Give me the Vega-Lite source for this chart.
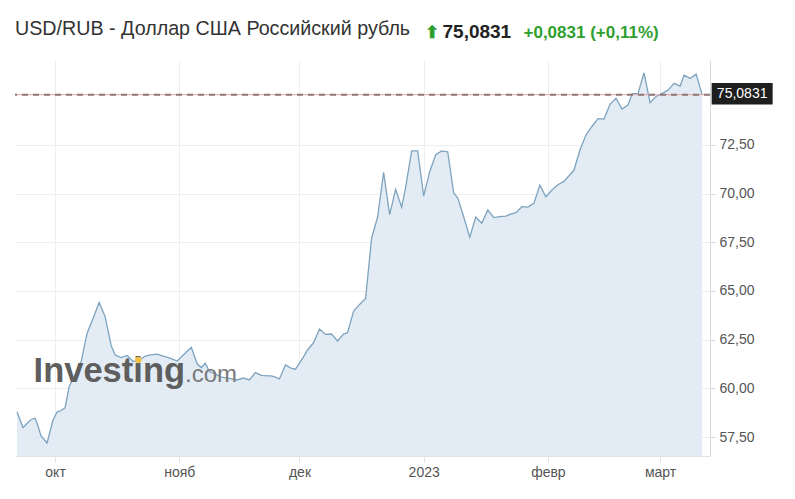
{
  "$schema": "https://vega.github.io/schema/vega-lite/v6.json",
  "width": 695,
  "height": 396,
  "autosize": "none",
  "padding": {"left": 15, "top": 60, "right": 85, "bottom": 43},
  "background": "white",
  "config": {"font": "Liberation Sans", "view": {"stroke": null}},
  "title": {"text": "USD/RUB - Доллар США Российский рубль", "anchor": "start", "frame": "group", "fontSize": 19.7, "fontWeight": "normal", "color": "#333333", "font": "Liberation Sans", "offset": 18, "dy": 51, "baseline": "alphabetic"},
  "datasets": {
    "usdrub": [
      {"date": "2022-09-21T12:00:00Z", "price": 58.80},
      {"date": "2022-09-23T00:00:00Z", "price": 57.99},
      {"date": "2022-09-25T00:00:00Z", "price": 58.40},
      {"date": "2022-09-26T00:00:00Z", "price": 58.46},
      {"date": "2022-09-26T12:00:00Z", "price": 58.22},
      {"date": "2022-09-27T12:00:00Z", "price": 57.55},
      {"date": "2022-09-29T00:00:00Z", "price": 57.19},
      {"date": "2022-09-30T12:00:00Z", "price": 58.37},
      {"date": "2022-10-01T12:00:00Z", "price": 58.78},
      {"date": "2022-10-02T12:00:00Z", "price": 58.86},
      {"date": "2022-10-03T12:00:00Z", "price": 59.00},
      {"date": "2022-10-04T12:00:00Z", "price": 60.08},
      {"date": "2022-10-06T00:00:00Z", "price": 60.72},
      {"date": "2022-10-07T12:00:00Z", "price": 61.37},
      {"date": "2022-10-09T00:00:00Z", "price": 62.83},
      {"date": "2022-10-10T12:00:00Z", "price": 63.60},
      {"date": "2022-10-12T00:00:00Z", "price": 64.41},
      {"date": "2022-10-13T12:00:00Z", "price": 63.68},
      {"date": "2022-10-15T00:00:00Z", "price": 62.20},
      {"date": "2022-10-16T00:00:00Z", "price": 61.71},
      {"date": "2022-10-17T12:00:00Z", "price": 61.58},
      {"date": "2022-10-19T00:00:00Z", "price": 61.69},
      {"date": "2022-10-20T12:00:00Z", "price": 61.38},
      {"date": "2022-10-22T00:00:00Z", "price": 61.45},
      {"date": "2022-10-23T12:00:00Z", "price": 61.66},
      {"date": "2022-10-24T12:00:00Z", "price": 61.71},
      {"date": "2022-10-26T12:00:00Z", "price": 61.76},
      {"date": "2022-10-28T00:00:00Z", "price": 61.66},
      {"date": "2022-10-29T12:00:00Z", "price": 61.56},
      {"date": "2022-10-31T12:00:00Z", "price": 61.40},
      {"date": "2022-11-02T00:00:00Z", "price": 61.71},
      {"date": "2022-11-04T00:00:00Z", "price": 62.10},
      {"date": "2022-11-05T12:00:00Z", "price": 61.25},
      {"date": "2022-11-06T12:00:00Z", "price": 61.07},
      {"date": "2022-11-07T12:00:00Z", "price": 61.29},
      {"date": "2022-11-08T12:00:00Z", "price": 60.86},
      {"date": "2022-11-10T00:00:00Z", "price": 60.74},
      {"date": "2022-11-11T12:00:00Z", "price": 60.58},
      {"date": "2022-11-13T12:00:00Z", "price": 60.51},
      {"date": "2022-11-15T12:00:00Z", "price": 60.43},
      {"date": "2022-11-17T00:00:00Z", "price": 60.53},
      {"date": "2022-11-18T12:00:00Z", "price": 60.43},
      {"date": "2022-11-20T00:00:00Z", "price": 60.81},
      {"date": "2022-11-21T12:00:00Z", "price": 60.67},
      {"date": "2022-11-23T00:00:00Z", "price": 60.64},
      {"date": "2022-11-24T00:00:00Z", "price": 60.64},
      {"date": "2022-11-25T00:00:00Z", "price": 60.58},
      {"date": "2022-11-26T00:00:00Z", "price": 60.48},
      {"date": "2022-11-27T12:00:00Z", "price": 61.20},
      {"date": "2022-11-29T00:00:00Z", "price": 61.03},
      {"date": "2022-11-30T00:00:00Z", "price": 60.98},
      {"date": "2022-12-02T00:00:00Z", "price": 61.62},
      {"date": "2022-12-03T00:00:00Z", "price": 61.97},
      {"date": "2022-12-04T12:00:00Z", "price": 62.34},
      {"date": "2022-12-06T00:00:00Z", "price": 63.04},
      {"date": "2022-12-07T12:00:00Z", "price": 62.77},
      {"date": "2022-12-09T00:00:00Z", "price": 62.79},
      {"date": "2022-12-10T12:00:00Z", "price": 62.43},
      {"date": "2022-12-12T00:00:00Z", "price": 62.79},
      {"date": "2022-12-13T00:00:00Z", "price": 62.86},
      {"date": "2022-12-14T12:00:00Z", "price": 63.96},
      {"date": "2022-12-16T00:00:00Z", "price": 64.31},
      {"date": "2022-12-17T12:00:00Z", "price": 64.62},
      {"date": "2022-12-19T00:00:00Z", "price": 67.71},
      {"date": "2022-12-20T12:00:00Z", "price": 68.80},
      {"date": "2022-12-22T00:00:00Z", "price": 71.10},
      {"date": "2022-12-23T12:00:00Z", "price": 68.92},
      {"date": "2022-12-25T00:00:00Z", "price": 70.22},
      {"date": "2022-12-26T12:00:00Z", "price": 69.30},
      {"date": "2022-12-27T12:00:00Z", "price": 70.34},
      {"date": "2022-12-29T00:00:00Z", "price": 72.20},
      {"date": "2022-12-30T12:00:00Z", "price": 72.20},
      {"date": "2023-01-01T00:00:00Z", "price": 69.88},
      {"date": "2023-01-02T12:00:00Z", "price": 71.13},
      {"date": "2023-01-04T00:00:00Z", "price": 72.00},
      {"date": "2023-01-05T12:00:00Z", "price": 72.20},
      {"date": "2023-01-07T00:00:00Z", "price": 72.15},
      {"date": "2023-01-08T12:00:00Z", "price": 70.02},
      {"date": "2023-01-09T12:00:00Z", "price": 69.79},
      {"date": "2023-01-11T00:00:00Z", "price": 68.80},
      {"date": "2023-01-12T12:00:00Z", "price": 67.76},
      {"date": "2023-01-14T00:00:00Z", "price": 68.80},
      {"date": "2023-01-15T12:00:00Z", "price": 68.48},
      {"date": "2023-01-17T00:00:00Z", "price": 69.16},
      {"date": "2023-01-18T12:00:00Z", "price": 68.77},
      {"date": "2023-01-20T00:00:00Z", "price": 68.82},
      {"date": "2023-01-21T12:00:00Z", "price": 68.85},
      {"date": "2023-01-22T12:00:00Z", "price": 68.93},
      {"date": "2023-01-24T00:00:00Z", "price": 69.02},
      {"date": "2023-01-25T12:00:00Z", "price": 69.33},
      {"date": "2023-01-27T00:00:00Z", "price": 69.31},
      {"date": "2023-01-28T12:00:00Z", "price": 69.50},
      {"date": "2023-01-30T00:00:00Z", "price": 70.44},
      {"date": "2023-01-31T12:00:00Z", "price": 69.84},
      {"date": "2023-02-02T00:00:00Z", "price": 70.19},
      {"date": "2023-02-03T12:00:00Z", "price": 70.46},
      {"date": "2023-02-05T00:00:00Z", "price": 70.63},
      {"date": "2023-02-06T12:00:00Z", "price": 70.97},
      {"date": "2023-02-07T12:00:00Z", "price": 71.20},
      {"date": "2023-02-09T00:00:00Z", "price": 72.24},
      {"date": "2023-02-10T12:00:00Z", "price": 73.01},
      {"date": "2023-02-12T00:00:00Z", "price": 73.45},
      {"date": "2023-02-13T12:00:00Z", "price": 73.85},
      {"date": "2023-02-15T00:00:00Z", "price": 73.83},
      {"date": "2023-02-16T12:00:00Z", "price": 74.59},
      {"date": "2023-02-18T00:00:00Z", "price": 74.90},
      {"date": "2023-02-19T12:00:00Z", "price": 74.35},
      {"date": "2023-02-21T00:00:00Z", "price": 74.55},
      {"date": "2023-02-22T00:00:00Z", "price": 75.13},
      {"date": "2023-02-23T12:00:00Z", "price": 75.15},
      {"date": "2023-02-25T00:00:00Z", "price": 76.21},
      {"date": "2023-02-26T12:00:00Z", "price": 74.67},
      {"date": "2023-02-28T00:00:00Z", "price": 74.99},
      {"date": "2023-03-02T00:00:00Z", "price": 75.20},
      {"date": "2023-03-03T00:00:00Z", "price": 75.32},
      {"date": "2023-03-04T12:00:00Z", "price": 75.67},
      {"date": "2023-03-06T00:00:00Z", "price": 75.53},
      {"date": "2023-03-07T00:00:00Z", "price": 76.09},
      {"date": "2023-03-08T12:00:00Z", "price": 75.92},
      {"date": "2023-03-10T00:00:00Z", "price": 76.14},
      {"date": "2023-03-11T12:00:00Z", "price": 75.0831}
    ],
    "last": [{"date": "2023-03-11T12:00:00Z", "price": 75.0831, "label": "75,0831"}]
  },
  "layer": [
    {
      "data": {"name": "usdrub"},
      "mark": {"type": "area", "color": "#e3ecf5", "clip": true},
      "encoding": {
        "x": {
          "field": "date", "type": "temporal",
          "scale": {"type": "utc", "domain": [{"year": 2022, "month": 9, "date": 21, "utc": true}, {"year": 2023, "month": 3, "date": 13, "hours": 11, "utc": true}]},
          "axis": {
            "values": [
              {"year": 2022, "month": 10, "date": 1, "utc": true},
              {"year": 2022, "month": 11, "date": 1, "utc": true},
              {"year": 2022, "month": 12, "date": 1, "utc": true},
              {"year": 2023, "month": 1, "date": 1, "utc": true},
              {"year": 2023, "month": 2, "date": 1, "utc": true},
              {"year": 2023, "month": 3, "date": 1, "utc": true}
            ],
            "labelExpr": "utcmonth(datum.value) == 0 ? utcFormat(datum.value, '%Y') : ['янв','февр','март','апр','май','июнь','июль','авг','сент','окт','нояб','дек'][utcmonth(datum.value)]",
            "grid": true, "gridColor": "#eeeeee",
            "domainColor": "#e2e2e2", "tickColor": "#e2e2e2", "tickSize": 6,
            "labelColor": "#555555", "labelFontSize": 14, "labelPadding": 3,
            "title": "⬆\u00a0\u00a0\u00a0\u00a0\u00a0\u00a0\u00a0\u00a0\u00a0\u00a0\u00a0\u00a0\u00a0\u00a0\u00a0\u00a0\u00a0\u00a0+0,0831 (+0,11%)",
            "titleX": 409, "titleY": -419, "titleAlign": "left", "titleBaseline": "alphabetic",
            "titleFontSize": 17, "titleFontWeight": "bold", "titleColor": "#2e9f2e"
          }
        },
        "y": {
          "field": "price", "type": "quantitative",
          "scale": {"domain": [56.524, 76.866], "nice": false, "zero": false},
          "axis": {
            "orient": "right",
            "values": [57.5, 60, 62.5, 65, 67.5, 70, 72.5],
            "labelExpr": "replace(format(datum.value, '.2f'), '.', ',')",
            "grid": true, "gridColor": "#eeeeee",
            "domainColor": "#dadada", "tickColor": "#d5d5d5", "tickSize": 5,
            "labelColor": "#555555", "labelFontSize": 14, "labelPadding": 4,
            "title": "75,0831", "titleAngle": 0, "titleAlign": "left", "titleBaseline": "alphabetic",
            "titleX": -268, "titleY": -23, "titleFontSize": 19, "titleFontWeight": "bold", "titleColor": "#222222"
          }
        }
      }
    },
    {
      "data": {"name": "usdrub"},
      "mark": {"type": "line", "color": "#7ea3bf", "strokeWidth": 1.3, "clip": true},
      "encoding": {
        "x": {"field": "date", "type": "temporal"},
        "y": {"field": "price", "type": "quantitative"}
      }
    },
    {
      "data": {"values": [{}]},
      "mark": {"type": "text", "text": "Investing", "font": "Liberation Sans", "fontSize": 34.5, "fontWeight": "bold", "color": "#5e5e5e", "align": "right", "baseline": "alphabetic"},
      "encoding": {
        "x": {"datum": {"year": 2022, "month": 11, "date": 2, "hours": 10, "minutes": 30, "utc": true}, "type": "temporal"},
        "y": {"datum": 60.32, "type": "quantitative"}
      }
    },
    {
      "data": {"values": [{}]},
      "mark": {"type": "text", "text": ".com", "font": "Liberation Sans", "fontSize": 24, "fontWeight": "normal", "color": "#7a7a7a", "align": "left", "baseline": "alphabetic"},
      "encoding": {
        "x": {"datum": {"year": 2022, "month": 11, "date": 2, "hours": 10, "minutes": 30, "utc": true}, "type": "temporal"},
        "y": {"datum": 60.32, "type": "quantitative"}
      }
    },
    {
      "data": {"values": [{}]},
      "mark": {"type": "point", "filled": true, "color": "#f3c044", "size": 40, "opacity": 1},
      "encoding": {
        "x": {"datum": {"year": 2022, "month": 10, "date": 21, "hours": 19, "utc": true}, "type": "temporal"},
        "y": {"datum": 61.455, "type": "quantitative"}
      }
    },
    {
      "data": {"values": [{}]},
      "mark": {"type": "rule", "color": "#e9a3a3", "strokeWidth": 1},
      "encoding": {"y": {"datum": 75.0831, "type": "quantitative"}}
    },
    {
      "data": {"values": [{}]},
      "mark": {"type": "rule", "color": "#8e7676", "strokeWidth": 2, "strokeDash": [6, 5]},
      "encoding": {"y": {"datum": 75.0831, "type": "quantitative"}}
    },
    {
      "data": {"name": "last"},
      "mark": {"type": "point", "shape": "M-1,-0.35L1,-0.35L1,0.35L-1,0.35Z", "size": 3721, "filled": true, "color": "#1e1e1e", "opacity": 1, "xOffset": 40, "yOffset": -1, "clip": false},
      "encoding": {
        "x": {"field": "date", "type": "temporal"},
        "y": {"field": "price", "type": "quantitative"}
      }
    },
    {
      "data": {"name": "last"},
      "mark": {"type": "text", "font": "Liberation Sans", "fontSize": 14, "color": "#ffffff", "align": "center", "baseline": "middle", "xOffset": 40, "yOffset": -1, "clip": false},
      "encoding": {
        "x": {"field": "date", "type": "temporal"},
        "y": {"field": "price", "type": "quantitative"},
        "text": {"field": "label"}
      }
    }
  ]
}
